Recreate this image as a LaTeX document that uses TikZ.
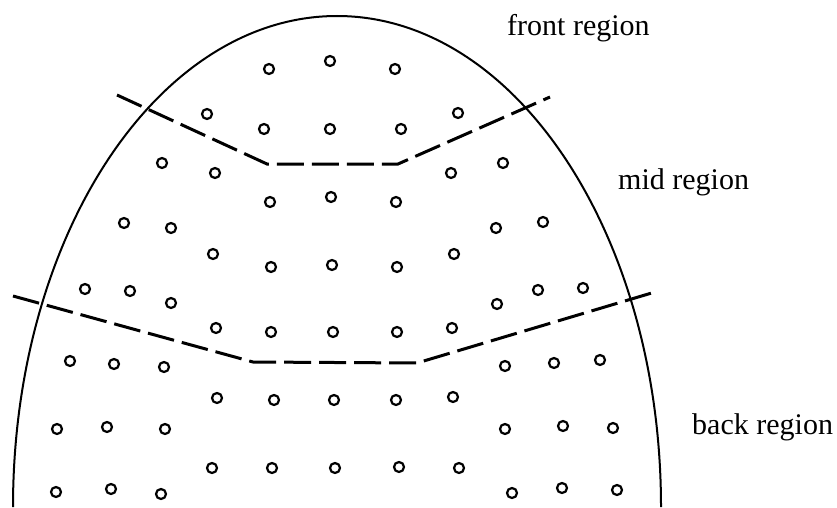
\documentclass[tikz,border=0pt]{standalone}
\usepackage{fontspec}
\setmainfont{Liberation Serif}

\begin{document}
\begin{tikzpicture}[x=1pt,y=1pt,
        hole/.style={line width=2.2pt},
        border/.style={line width=2pt},
        cut/.style={line width=3pt, dash pattern=on 27pt off 8pt},
        region/.style={anchor=base west, inner sep=0pt, font=\fontsize{30}{36}\selectfont}]
        \useasboundingbox (0,0) rectangle (837,507);

        % outline
        \draw[border] (13,0) arc[start angle=180, end angle=0, x radius=324, y radius=491];

        % region borders
        \draw[cut] (117,412) -- (267,343) -- (398,343) -- (550,410);
        \draw[cut] (13,211) -- (253,145) -- (417,144) -- (655,215);

        % points
        \foreach \px/\py in {269/438, 330/446, 395/438,
                207/393, 264/378, 330/378, 401/378, 458/394,
                162/344, 215/334, 451/334, 503/344,
                270/305, 331/310, 396/305,
                124/284, 171/279, 496/279, 543/285,
                213/253, 454/253,
                271/240, 332/242, 397/240,
                85/218, 130/216, 171/204, 497/203, 538/217, 583/219,
                216/179, 271/175, 333/175, 397/175, 452/179,
                70/146, 114/143, 164/140, 505/141, 554/144, 600/147,
                217/109, 274/107, 334/107, 396/107, 453/110,
                57/78, 107/80, 165/78, 505/78, 563/81, 613/79,
                212/39, 272/39, 335/39, 399/40, 459/39,
                56/15, 111/18, 161/13, 512/14, 562/19, 617/17}
            \draw[hole] (\px,\py) circle[radius=5];

        \node[region] (front) at (507,471) {front region};
        \node[region] (mid) at (618,318) {mid region};
        \node[region] (back) at (692,73) {back region};
\end{tikzpicture}
\end{document}
